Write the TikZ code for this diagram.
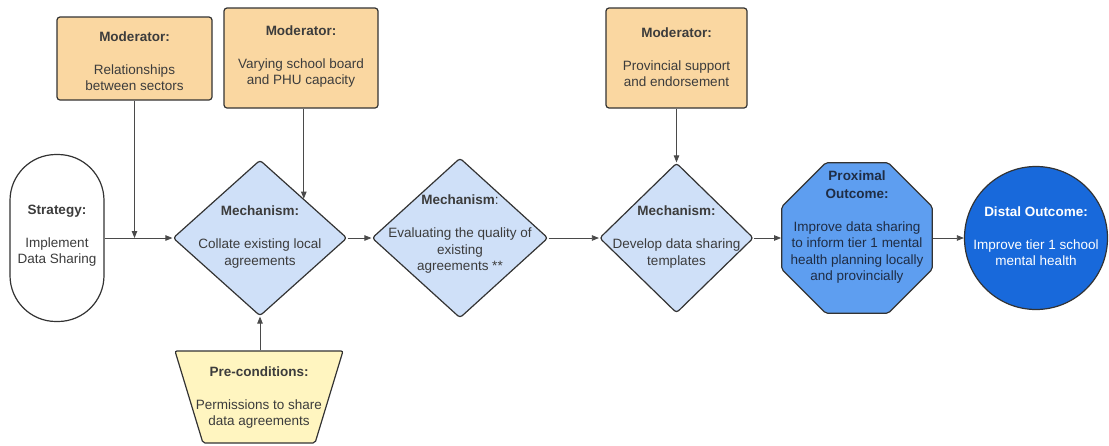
\documentclass[tikz,border=0pt]{standalone}
\usepackage{fontspec}
\setmainfont{Liberation Sans}
\usetikzlibrary{shapes.geometric,arrows.meta}

\definecolor{edge}{HTML}{333333}
\definecolor{wire}{HTML}{4A4A4A}
\definecolor{txt}{HTML}{3C3C3C}
\definecolor{modfill}{HTML}{FAD7A1}
\definecolor{mechfill}{HTML}{CFE0F8}
\definecolor{proxfill}{HTML}{5E9EF0}
\definecolor{proxtxt}{HTML}{1F2D45}
\definecolor{distfill}{HTML}{1869DB}
\definecolor{prefill}{HTML}{FFF5C0}

\begin{document}
\begin{tikzpicture}[x=1pt,y=-1pt,
  every node/.style={font=\fontsize{13.5}{16.5}\selectfont},
  shapebox/.style={draw=edge, line width=1.2pt, inner sep=0pt},
  tag/.style={align=center, text=txt, inner sep=0pt},
  link/.style={draw=wire, line width=0.8pt, -{Triangle[length=7pt,width=5.5pt]}},
]
\useasboundingbox (0,0) rectangle (1109,445);

% moderators
\node[shapebox, rounded corners=3pt, fill=modfill, minimum width=155pt, minimum height=83pt] (mod1) at (134.5,58.5) {};
\node[tag] (mod1t) at (134.5,61) {\textbf{Moderator:}\\[16.5pt]Relationships\\between sectors};

\node[shapebox, rounded corners=3pt, fill=modfill, minimum width=154pt, minimum height=100pt] (mod2) at (301,58) {};
\node[tag] (mod2t) at (301,56.5) {\textbf{Moderator:}\\[16.5pt]Varying school board\\and PHU capacity};

\node[shapebox, rounded corners=3pt, fill=modfill, minimum width=141pt, minimum height=100pt] (mod3) at (676.5,58) {};
\node[tag] (mod3t) at (676.5,57) {\textbf{Moderator:}\\[16.5pt]Provincial support\\and endorsement};

% strategy
\node[shapebox, rounded corners=46pt, fill=white, minimum width=94pt, minimum height=167pt] (strat) at (57,238) {};
\node[tag] (stratt) at (57,235.5) {\textbf{Strategy:}\\[16.5pt]Implement\\Data Sharing};

% mechanisms
\node[shapebox, diamond, rounded corners=3pt, fill=mechfill, minimum width=174pt, minimum height=156pt] (m1) at (260,238) {};
\node[tag] (m1t) at (260,237) {\textbf{Mechanism:}\\[16.5pt]Collate existing local\\agreements};

\node[shapebox, diamond, rounded corners=3pt, fill=mechfill, minimum width=176pt, minimum height=160pt] (m2) at (460,238) {};
\node[tag] (m2t) at (460,234.5) {\textbf{Mechanism}:\\[16.5pt]Evaluating the quality of\\existing\\agreements **};

\node[shapebox, diamond, rounded corners=3pt, fill=mechfill, minimum width=154pt, minimum height=150pt] (m3) at (676.5,238) {};
\node[tag] (m3t) at (676.5,237) {\textbf{Mechanism:}\\[16.5pt]Develop data sharing\\templates};

% outcomes
\node[shapebox, regular polygon, regular polygon sides=8, rounded corners=2pt, fill=proxfill, minimum size=163pt] (prox) at (857,238) {};
\node[tag, text=proxtxt] (proxt) at (857,227) {\textbf{Proximal}\\[1.5pt]\textbf{Outcome:}\\[16.5pt]Improve data sharing\\to inform tier 1 mental\\health planning locally\\and provincially};

\node[shapebox, circle, fill=distfill, minimum size=143pt] (dist) at (1036,238) {};
\node[tag, text=white] (distt) at (1036,236) {\textbf{Distal Outcome:}\\[16.5pt]Improve tier 1 school\\mental health};

% pre-conditions
\node[shapebox, trapezium, trapezium stretches=true, shape border rotate=180, trapezium angle=76, inner sep=4pt, rounded corners=2pt, fill=prefill, minimum width=168pt, minimum height=92pt] (pre) at (259,397) {};
\node[tag] (pret) at (259,397.5) {\textbf{Pre-conditions:}\\[16.5pt]Permissions to share\\data agreements};

% connectors
\coordinate (j1) at (mod1.south |- strat.east);
\draw[link] (strat.east) -- (m1.west);
\draw[link] (mod1.south) -- (j1);
\draw[link] (m1.north east |- mod2.south) -- (m1.north east);
\draw[link] (m1.south |- pre.north) -- (m1.south);
\draw[link] (m1.east) -- (m2.west);
\draw[link] (m2.east) -- (m3.west);
\draw[link] (mod3.south) -- (mod3.south |- m3.north);
\draw[link] (m3.east) -- (prox.west);
\draw[link] (prox.east) -- (dist.west);
\end{tikzpicture}
\end{document}
